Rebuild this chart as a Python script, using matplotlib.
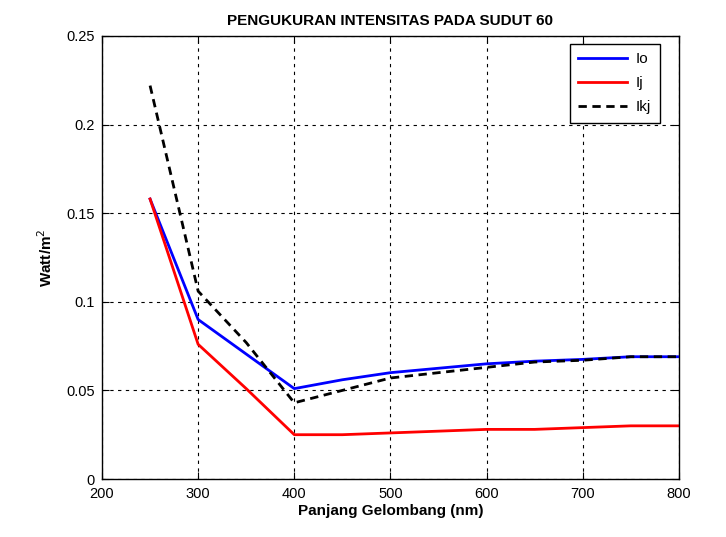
import matplotlib
matplotlib.use('Agg')
import matplotlib.pyplot as plt

plt.rcParams['font.family'] = ['Liberation Sans', 'DejaVu Sans']

# data
wavelength = [250, 300, 350, 400, 450, 500, 550, 600, 650, 700, 750, 800]
Io = [0.158, 0.090, 0.0705, 0.051, 0.056, 0.060, 0.0625, 0.065, 0.0665, 0.0675, 0.069, 0.069]
Ij = [0.158, 0.076, 0.051, 0.025, 0.025, 0.026, 0.027, 0.028, 0.028, 0.029, 0.030, 0.030]
Ikj = [0.222, 0.106, 0.077, 0.043, 0.050, 0.057, 0.060, 0.063, 0.066, 0.067, 0.069, 0.069]

fig = plt.figure(figsize=(7.26, 5.37), dpi=100)
ax = fig.add_axes([0.1405, 0.108, 0.7945, 0.825])

ax.plot(wavelength, Io, color='blue', linewidth=2, label='Io')
ax.plot(wavelength, Ij, color='red', linewidth=2, label='Ij')
ax.plot(wavelength, Ikj, color='black', linewidth=2, linestyle=(0, (3, 2)), label='Ikj')

ax.set_xlim(200, 800)
ax.set_ylim(0, 0.25)
ax.set_xticks([200, 300, 400, 500, 600, 700, 800])
ax.set_yticks([0, 0.05, 0.1, 0.15, 0.2, 0.25])
ax.set_yticklabels(['0', '0.05', '0.1', '0.15', '0.2', '0.25'])
ax.tick_params(direction='in', labelsize=10.5, length=5, top=True, right=True)
ax.tick_params(axis='x', pad=6)
ax.tick_params(axis='y', pad=5)
ax.grid(True, color='black', linestyle=(0, (3, 4)), linewidth=0.8)
for s in ax.spines.values():
    s.set_linewidth(1)

ax.set_title('PENGUKURAN INTENSITAS PADA SUDUT 60', fontsize=11, fontweight='bold', pad=8)
ax.set_xlabel('Panjang Gelombang (nm)', fontsize=11, fontweight='bold', labelpad=2)
ax.set_ylabel('Watt/m$^2$', fontsize=11, fontweight='bold', labelpad=8)

leg = ax.legend(loc='upper right', bbox_to_anchor=(0.967, 0.982), fontsize=11,
                fancybox=False, framealpha=1, edgecolor='black', handlelength=3.2,
                handletextpad=0.6, labelspacing=0.65, borderaxespad=0, borderpad=0.55)
leg.get_frame().set_linewidth(1)

fig.savefig('out.png', dpi=100)
